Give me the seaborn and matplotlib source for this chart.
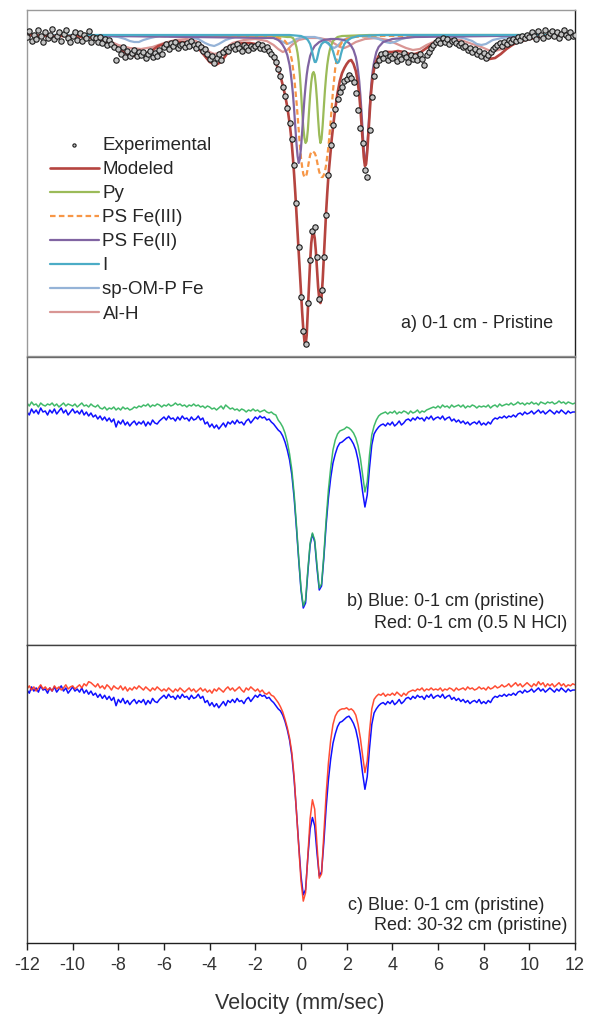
import numpy as np
import pandas as pd
import matplotlib
matplotlib.use("Agg")
import matplotlib.pyplot as plt
import seaborn as sns

sns.set_theme(style="white")
plt.rcParams["font.family"] = ["Liberation Sans", "DejaVu Sans"]
plt.rcParams["axes.unicode_minus"] = False

# ---------------- data (absorption, arbitrary units; larger = deeper) ----------------
# spectrometer channels: -12 ... 12 mm/s in 0.1 mm/s steps
velocity = np.round(np.linspace(-12, 12, 241), 2)

# panel a: experimental spectrum, 0-1 cm pristine
exp_a = [
    2, -4, 6, 0, 4, -5, 1, 7, -3, 3,
    0, -6, 4, 1, -3, 6, -1, -5, 3, 7,
    1, -3, 5, -2, 6, 0, 3, -4, 7, 2,
    3, 7, 2, 8, 4, 10, 5, 9, 12, 25,
    14, 19, 12, 22, 16, 21, 18, 15, 21, 17,
    20, 17, 23, 19, 16, 22, 18, 21, 15, 19,
    12, 9, 14, 8, 11, 7, 13, 10, 9, 12,
    8, 11, 6, 10, 13, 9, 12, 16, 14, 19,
    24, 21, 28, 23, 19, 25, 17, 14, 16, 12,
    11, 14, 9, 13, 16, 10, 12, 15, 11, 13,
    11, 9, 13, 10, 14, 12, 16, 19, 22, 27,
    34, 41, 52, 61, 73, 88, 104, 130, 168, 212,
    262, 296, 309, 268, 225, 196, 192, 222, 264, 255,
    222, 180, 140, 110, 90, 74, 64, 57, 52, 46,
    44, 40, 43, 47, 58, 75, 93, 108, 135, 142,
    95, 62, 41, 30, 25, 19, 23, 18, 25, 21,
    23, 19, 26, 21, 24, 18, 22, 27, 20, 24,
    21, 25, 19, 24, 30, 20, 17, 13, 10, 7,
    5, 8, 3, 7, 4, 9, 6, 5, 8, 10,
    8, 12, 11, 15, 13, 17, 14, 19, 16, 21,
    18, 23, 20, 17, 14, 12, 10, 8, 11, 7,
    9, 5, 7, 4, 6, 2, 5, 1, 3, 0,
    2, -3, 1, 4, -4, 0, 3, -5, 1, -2,
    -4, 1, -3, 3, -1, -5, 0, 2, -3, 1,
    0,
]

# panel a: fitted model
mod_v = [-12, -11, -10, -9.5, -9.0, -8.5, -8.25, -8.0, -7.75, -7.5,
         -7.25, -7.0, -6.75, -6.5, -6.25, -6.0, -5.5, -5.0, -4.75, -4.5,
         -4.25, -4.0, -3.75, -3.5, -3.25, -3.0, -2.75, -2.5, -2.25, -2.0,
         -1.75, -1.5, -1.4, -1.3, -1.2, -1.1, -1.0, -0.9, -0.8, -0.7,
         -0.6, -0.5, -0.45, -0.4, -0.35, -0.3, -0.25, -0.2, -0.15, -0.1,
         -0.05, 0.0, 0.05, 0.1, 0.15, 0.2, 0.25, 0.3, 0.35, 0.4,
         0.45, 0.5, 0.55, 0.6, 0.65, 0.7, 0.75, 0.8, 0.85, 0.9,
         0.95, 1.0, 1.05, 1.1, 1.15, 1.2, 1.25, 1.3, 1.35, 1.4,
         1.45, 1.5, 1.6, 1.7, 1.8, 1.9, 2.0, 2.1, 2.2, 2.3,
         2.4, 2.45, 2.5, 2.55, 2.6, 2.65, 2.7, 2.75, 2.8, 2.85,
         2.9, 2.95, 3.0, 3.05, 3.1, 3.15, 3.2, 3.3, 3.4, 3.5,
         3.6, 3.75, 4.0, 4.25, 4.5, 4.75, 5.0, 5.25, 5.5, 5.75,
         6.0, 6.5, 7.0, 7.25, 7.5, 7.75, 8.0, 8.25, 8.5, 8.75,
         9.0, 9.25, 9.5, 10.0, 10.5, 11.0, 12.0]
mod_a = [0, 1, 1, 2, 3, 7, 9, 13, 17, 20,
         21, 21, 18, 15, 11, 9, 7, 7, 9, 13,
         20, 27, 30, 27, 19, 12, 9, 8, 8, 9,
         11, 14, 16, 19, 23, 28, 34, 41, 50, 60,
         72, 88, 98, 110, 124, 140, 158, 178, 198, 218,
         238, 258, 277, 294, 306, 310, 300, 276, 250, 226,
         208, 199, 197, 203, 216, 234, 252, 264, 268, 262,
         245, 222, 198, 177, 158, 141, 128, 115, 103, 93,
         83, 74, 58, 46, 38, 33, 29, 26, 25, 29,
         36, 42, 50, 60, 73, 89, 106, 122, 131, 129,
         117, 99, 80, 63, 50, 41, 34, 26, 21, 19,
         18, 17, 17, 16, 17, 19, 19, 17, 13, 9,
         7, 6, 8, 11, 16, 20, 22, 24, 23, 19,
         14, 10, 7, 4, 2, 1, 0]

# fitted components
py_v = [-12, -1.0, -0.6, -0.45, -0.35, -0.3, -0.25, -0.2, -0.15, -0.1,
        -0.05, 0.0, 0.05, 0.1, 0.15, 0.2, 0.25, 0.3, 0.35, 0.4,
        0.45, 0.5, 0.55, 0.6, 0.65, 0.7, 0.75, 0.8, 0.85, 0.9,
        0.95, 1.0, 1.05, 1.1, 1.15, 1.2, 1.25, 1.3, 1.35, 1.4,
        1.5, 1.6, 1.8, 3.0, 12]
py_a = [0, 1, 2, 2, 3, 5, 8, 12, 18, 27,
        40, 57, 76, 92, 103, 108, 106, 95, 77, 60,
        47, 39, 37, 40, 50, 65, 84, 100, 108, 104,
        90, 72, 55, 41, 30, 22, 16, 12, 9, 6,
        4, 2, 1, 0, 0]

fe3_v = [-12, -1.2, -0.8, -0.7, -0.6, -0.5, -0.4, -0.3, -0.2, -0.1,
         -0.05, 0.0, 0.05, 0.1, 0.15, 0.2, 0.25, 0.3, 0.35, 0.4,
         0.45, 0.5, 0.55, 0.6, 0.65, 0.7, 0.75, 0.8, 0.85, 0.9,
         0.95, 1.0, 1.05, 1.1, 1.2, 1.3, 1.4, 1.5, 1.6, 1.7,
         1.8, 1.9, 2.0, 2.3, 3.0, 12]
fe3_a = [0, 2, 4, 6, 9, 15, 25, 42, 66, 95,
         110, 123, 132, 139, 142, 142, 139, 133, 126, 120,
         117, 116, 117, 118, 121, 126, 132, 137, 140, 142,
         142, 140, 136, 130, 112, 86, 56, 33, 19, 11,
         7, 5, 4, 2, 1, 0]

fe2_v = [-12, -1.2, -1.0, -0.9, -0.8, -0.7, -0.6, -0.5, -0.45, -0.4,
         -0.35, -0.3, -0.25, -0.2, -0.15, -0.1, -0.05, 0.0, 0.05, 0.1,
         0.15, 0.2, 0.25, 0.3, 0.4, 0.5, 0.6, 0.8, 1.0, 1.3,
         1.6, 1.9, 2.1, 2.2, 2.3, 2.4, 2.45, 2.5, 2.55, 2.6,
         2.65, 2.7, 2.75, 2.8, 2.85, 2.9, 2.95, 3.0, 3.05, 3.1,
         3.15, 3.2, 3.3, 3.4, 3.6, 4.0, 5.0, 12]
fe2_a = [0, 3, 5, 7, 10, 14, 20, 30, 38, 48,
         60, 75, 92, 108, 121, 128, 124, 113, 97, 80,
         64, 51, 40, 32, 21, 15, 11, 7, 5, 4,
         4, 5, 8, 11, 15, 22, 28, 36, 46, 60,
         77, 96, 115, 128, 126, 113, 94, 75, 58, 44,
         34, 27, 17, 12, 7, 4, 2, 0]

i_v = [-12, -0.5, 0.0, 0.2, 0.3, 0.4, 0.45, 0.5, 0.55, 0.6,
       0.65, 0.7, 0.75, 0.8, 0.9, 1.0, 1.1, 1.2, 1.3, 1.4,
       1.45, 1.5, 1.55, 1.6, 1.65, 1.7, 1.75, 1.8, 1.9, 2.0,
       2.2, 2.5, 3.5, 12]
i_a = [0, 0, 1, 3, 5, 9, 13, 18, 23, 27,
       27, 24, 19, 14, 9, 7, 7, 8, 11, 16,
       20, 24, 27, 28, 27, 24, 19, 15, 9, 6,
       3, 1, 0, 0]

spom_v = [-12, -8.4, -8.0, -7.7, -7.5, -7.3, -7.1, -6.9, -6.6, -6.2,
          -5.5, -4.9, -4.5, -4.2, -4.0, -3.8, -3.6, -3.3, -2.9, -2.2,
          -1.4, -1.0, -0.8, -0.6, -0.4, -0.2, 0.1, 0.6, 0.9, 1.1,
          1.3, 1.45, 1.6, 1.8, 2.1, 2.6, 3.0, 3.4, 3.7, 3.9,
          4.1, 4.4, 4.8, 5.5, 6.5, 7.1, 7.5, 7.7, 7.9, 8.1,
          8.4, 8.8, 9.5, 12]
spom_a = [0, 1, 2, 4, 6, 7, 7, 5, 3, 1,
          1, 2, 4, 8, 10, 11, 9, 5, 2, 1,
          2, 4, 7, 9, 7, 4, 2, 2, 4, 7,
          11, 13, 11, 6, 2, 1, 2, 4, 7, 8,
          7, 4, 2, 1, 1, 3, 6, 9, 10, 9,
          5, 3, 1, 0]

alh_v = [-12, -9.5, -9.0, -8.5, -8.0, -7.5, -7.0, -6.5, -6.0, -5.5,
         -5.0, -4.6, -4.3, -4.0, -3.8, -3.6, -3.3, -3.0, -2.5, -2.0,
         -1.5, -1.2, -1.0, -0.8, -0.6, -0.4, -0.1, 0.3, 0.8, 1.2,
         1.5, 1.7, 1.9, 2.1, 2.4, 2.8, 3.3, 3.8, 4.2, 4.6,
         4.9, 5.2, 5.5, 5.9, 6.4, 7.0, 7.5, 7.9, 8.2, 8.5,
         8.8, 9.1, 9.5, 10.0, 10.6, 12]
alh_a = [0, 1, 2, 5, 10, 13, 14, 12, 8, 5,
         4, 6, 11, 17, 19, 18, 13, 8, 5, 4,
         6, 10, 14, 17, 15, 10, 5, 3, 3, 5,
         9, 12, 13, 11, 7, 4, 3, 5, 9, 13,
         15, 14, 10, 6, 4, 5, 9, 12, 15, 16,
         14, 10, 6, 3, 1, 0]

# panels b / c: 0-1 cm pristine (blue)
blue_pristine = [
    12, 15, 9, 13, 10, 14, 8, 12, 11, 15,
    10, 13, 9, 14, 11, 8, 13, 10, 15, 12,
    9, 13, 11, 14, 10, 15, 12, 16, 13, 17,
    15, 19, 16, 20, 17, 21, 18, 22, 19, 27,
    21, 24, 20, 25, 22, 26, 23, 21, 25, 22,
    24, 21, 26, 22, 25, 20, 23, 24, 21, 19,
    17, 20, 16, 19, 18, 21, 17, 20, 16, 19,
    18, 21, 17, 20, 19, 16, 20, 18, 24, 22,
    27, 24, 28, 25, 29, 26, 23, 27, 22, 24,
    21, 24, 20, 23, 22, 25, 21, 19, 23, 20,
    17, 19, 16, 18, 17, 20, 19, 22, 24, 27,
    30, 32, 36, 42, 50, 60, 75, 98, 128, 160,
    190, 208, 203, 172, 145, 134, 142, 168, 190, 186,
    158, 125, 98, 78, 63, 54, 47, 43, 42, 40,
    38, 37, 40, 44, 50, 60, 74, 92, 107, 95,
    68, 45, 34, 30, 27, 25, 24, 26, 23, 25,
    22, 26, 24, 21, 25, 23, 20, 19, 21, 18,
    20, 17, 19, 18, 21, 17, 19, 16, 20, 18,
    17, 19, 16, 20, 18, 17, 21, 19, 22, 20,
    23, 21, 24, 22, 25, 23, 22, 24, 21, 25,
    23, 25, 22, 24, 20, 18, 19, 17, 18, 16,
    18, 16, 17, 15, 17, 14, 13, 15, 12, 14,
    13, 11, 14, 12, 10, 13, 11, 14, 12, 10,
    12, 14, 11, 13, 10, 12, 14, 11, 13, 12,
    12,
]

# panel b: 0-1 cm after 0.5 N HCl
hcl_treated = [
    3, 6, 2, 5, 4, 7, 3, 5, 6, 4,
    5, 3, 6, 4, 7, 5, 3, 6, 4, 5,
    6, 4, 7, 5, 3, 6, 5, 7, 4, 6,
    7, 5, 8, 9, 7, 10, 8, 9, 7, 10,
    8, 10, 7, 9, 8, 10, 9, 7, 8, 6,
    7, 5, 6, 4, 7, 5, 6, 4, 5, 7,
    5, 6, 4, 6, 5, 3, 5, 4, 6, 5,
    7, 5, 6, 4, 6, 5, 7, 6, 8, 6,
    7, 9, 8, 10, 8, 6, 9, 5, 7, 9,
    8, 10, 9, 11, 9, 10, 12, 10, 11, 9,
    11, 10, 12, 11, 10, 12, 13, 12, 14, 15,
    20, 23, 27, 33, 42, 54, 70, 94, 125, 158,
    188, 206, 200, 170, 143, 133, 140, 165, 188, 184,
    155, 120, 90, 68, 50, 40, 34, 31, 30, 29,
    27, 28, 30, 33, 38, 46, 58, 75, 92, 82,
    55, 35, 26, 20, 16, 14, 13, 12, 14, 12,
    13, 11, 14, 12, 13, 11, 12, 14, 11, 13,
    12, 10, 13, 11, 12, 10, 9, 8, 7, 8,
    6, 8, 5, 7, 6, 8, 5, 7, 6, 5,
    7, 5, 8, 6, 7, 5, 6, 8, 6, 7,
    6, 7, 5, 8, 6, 5, 7, 4, 6, 5,
    4, 5, 3, 5, 4, 2, 4, 3, 5, 3,
    4, 2, 4, 3, 5, 2, 3, 4, 2, 3,
    2, 4, 3, 1, 3, 2, 4, 2, 3, 4,
    3,
]

# panel c: 30-32 cm pristine
deep_pristine = [
    11, 8, 12, 9, 13, 10, 7, 11, 9, 12,
    10, 13, 8, 11, 9, 12, 10, 7, 11, 9,
    8, 11, 9, 7, 10, 6, 8, 4, 5, 7,
    9, 6, 10, 8, 11, 7, 9, 12, 8, 10,
    11, 8, 12, 9, 13, 10, 12, 9, 11, 8,
    10, 12, 9, 11, 13, 10, 12, 9, 11, 13,
    11, 13, 10, 12, 14, 11, 13, 10, 12, 14,
    12, 10, 13, 11, 14, 12, 10, 13, 11, 14,
    12, 15, 11, 13, 10, 12, 14, 11, 9, 12,
    10, 13, 11, 9, 12, 14, 10, 12, 9, 11,
    13, 11, 14, 12, 15, 16, 14, 17, 18, 21,
    24, 28, 33, 40, 48, 58, 72, 95, 128, 162,
    195, 214, 206, 170, 135, 117, 126, 160, 192, 188,
    150, 112, 82, 60, 45, 37, 33, 31, 30, 30,
    29, 31, 30, 32, 36, 45, 58, 75, 91, 80,
    52, 30, 21, 18, 16, 17, 15, 18, 16, 17,
    15, 17, 14, 16, 18, 15, 17, 14, 13, 12,
    13, 11, 12, 10, 13, 11, 12, 10, 12, 11,
    12, 10, 13, 11, 12, 10, 11, 13, 10, 12,
    11, 10, 12, 9, 11, 10, 12, 11, 9, 11,
    10, 12, 9, 11, 10, 8, 10, 9, 7, 9,
    8, 6, 9, 7, 5, 8, 6, 9, 7, 5,
    7, 9, 6, 8, 4, 7, 5, 9, 6, 8,
    6, 9, 7, 5, 8, 6, 9, 7, 8, 6,
    7,
]

legend_order = ["Experimental", "Modeled", "Py", "PS Fe(III)", "PS Fe(II)",
                "I", "sp-OM-P Fe", "Al-H"]
tick_values = list(range(-12, 13, 2))


def trans(a):
    """relative transmission (%)"""
    return 100.0 - 0.04 * np.asarray(a, dtype=float)


# ---------------- figure ----------------
W, H = 592, 1025
fig = plt.figure(figsize=(W / 100, H / 100), dpi=100)


def ax_px(left, top, right, bottom):
    return fig.add_axes([left / W, 1 - bottom / H, (right - left) / W, (bottom - top) / H])


ax_a = ax_px(27, 10, 575, 356)
ax_b = ax_px(27, 357, 575, 645)
ax_c = ax_px(27, 645, 575, 943)

TXT = "#262626"

# ---- panel a ----
components = [
    (alh_v, alh_a, "Al-H", "#d99694", "-"),
    (spom_v, spom_a, "sp-OM-P Fe", "#95b3d7", "-"),
    (py_v, py_a, "Py", "#9bbb59", "-"),
    (fe3_v, fe3_a, "PS Fe(III)", "#f79646", "--"),
    (fe2_v, fe2_a, "PS Fe(II)", "#8064a2", "-"),
    (i_v, i_a, "I", "#4bacc6", "-"),
]
for v, a, lab, col, ls in components:
    sns.lineplot(x=v, y=trans(a), ax=ax_a, color=col, linewidth=1.6,
                 estimator=None, sort=False, label=lab)
    if ls == "--":
        ax_a.lines[-1].set_dashes([2.5, 1.5])

sns.lineplot(x=mod_v, y=trans(mod_a), ax=ax_a, color="#b5443f", linewidth=1.9,
             estimator=None, sort=False, label="Modeled")
sns.scatterplot(x=velocity, y=trans(exp_a), ax=ax_a, s=15, color="#c4c4c4",
                edgecolor="#1a1a1a", linewidth=0.8, label="Experimental", zorder=5)

handles, labels = ax_a.get_legend_handles_labels()
hd = dict(zip(labels, handles))
ax_a.legend([hd[k] for k in legend_order], legend_order, loc="upper left",
            bbox_to_anchor=((50 - 27) / 548, 1 - (137 - 10) / 346),
            frameon=False, fontsize=13.5, handlelength=2.6, handletextpad=0.2,
            labelspacing=0.37, borderpad=0, borderaxespad=0, markerscale=0.6,
            labelcolor=TXT)
ax_a.set_ylim(trans(321), trans(-25))
ax_a.text((553 - 27) / 548, 1 - (323 - 10) / 346, "a) 0-1 cm - Pristine",
          transform=ax_a.transAxes, ha="right", va="center", fontsize=13, color=TXT)

# ---- panel b ----
sns.lineplot(x=velocity, y=trans(blue_pristine), ax=ax_b, color="#1010ff",
             linewidth=1.1, estimator=None, sort=False)
sns.lineplot(x=velocity, y=trans(hcl_treated), ax=ax_b, color="#2db35a",
             linewidth=1.1, estimator=None, sort=False, alpha=0.9)
ax_b.set_ylim(trans(245), trans(-43))
ax_b.text((544 - 27) / 548, 1 - (602 - 357) / 288, "b) Blue: 0-1 cm (pristine)",
          transform=ax_b.transAxes, ha="right", va="center", fontsize=13, color=TXT)
ax_b.text((567 - 27) / 548, 1 - (623 - 357) / 288, "Red: 0-1 cm (0.5 N HCl)",
          transform=ax_b.transAxes, ha="right", va="center", fontsize=13, color=TXT)

# ---- panel c ----
sns.lineplot(x=velocity, y=trans(blue_pristine), ax=ax_c, color="#1010ff",
             linewidth=1.1, estimator=None, sort=False)
sns.lineplot(x=velocity, y=trans(deep_pristine), ax=ax_c, color="#ff3a1e",
             linewidth=1.1, estimator=None, sort=False, alpha=0.9)
ax_c.set_ylim(trans(254.1), trans(-31.1))
ax_c.text((544 - 27) / 548, 1 - (905 - 645) / 298, "c) Blue: 0-1 cm (pristine)",
          transform=ax_c.transAxes, ha="right", va="center", fontsize=13, color=TXT)
ax_c.text((567 - 27) / 548, 1 - (926 - 645) / 298, "Red: 30-32 cm (pristine)",
          transform=ax_c.transAxes, ha="right", va="center", fontsize=13, color=TXT)

# ---- axes styling ----
for ax in (ax_a, ax_b, ax_c):
    ax.set_xlim(-12, 12)
    ax.set_yticks([])
    ax.set_xlabel("")
    ax.set_ylabel("")
    ax.set_facecolor("white")
    for sp in ax.spines.values():
        sp.set_visible(True)
        sp.set_linewidth(1.0)

for sp in ax_a.spines.values():
    sp.set_color("#9a9a9a")
ax_a.spines["right"].set_color("#202020")
for sp in ax_b.spines.values():
    sp.set_color("#6a6a6a")
for sp in ax_c.spines.values():
    sp.set_color("#404040")
ax_c.spines["bottom"].set_color("#202020")

ax_a.set_xticks([])
ax_b.set_xticks([])
ax_c.set_xticks(tick_values)
ax_c.set_xticklabels([str(t) for t in tick_values])
ax_c.tick_params(axis="x", direction="out", length=5, width=1, color="#202020",
                 labelsize=13, labelcolor="#333333", pad=5, bottom=True)

fig.text(300 / W, 1 - 1004 / H, "Velocity (mm/sec)", ha="center", va="center",
         fontsize=15.5, color="#333333")

fig.savefig("out.png", dpi=100)
